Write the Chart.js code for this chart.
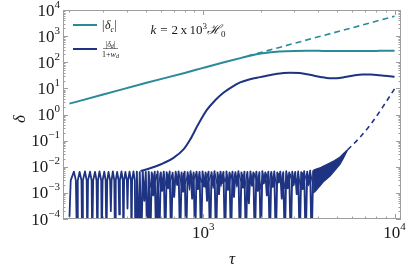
<!DOCTYPE html>
<html lang="en">
<head>
<meta charset="UTF-8">
<title>Density contrast vs conformal time</title>
<script src="https://cdn.jsdelivr.net/npm/chart.js@4.4.1/dist/chart.umd.min.js"></script>
<style>
  body { margin: 0; background: #fff; }
  .chart-container { width: 407px; height: 267px; }
</style>
</head>
<body>
<div class="chart-container"><canvas id="deltaChart"></canvas></div>
<script>
const TEAL = '#2a8a99';
const NAVY = '#1e3382';
const FRAME = '#9e9e9e';
const SERIF = '"Liberation Serif", "DejaVu Serif", serif';

// axis ranges and tick exponents
const xRange = [185, 10810];
const yRange = [1e-4, 1e4];
const xExponents = [3, 4];
const yExponents = [-4, -3, -2, -1, 0, 1, 2, 3, 4];

// |delta_c| (solid) and its dashed continuation
const tealTau = [200, 300, 500, 800, 1000, 1300, 1600, 1800, 2000, 2200, 2500, 3000, 3500, 4000, 5000, 6000, 7000, 8000, 9000, 10000];
const tealVal = [2.6, 5.8, 16, 39, 61, 102, 150, 185, 215, 238, 258, 272, 275, 273, 270, 268, 270, 272, 274, 275];
const tealDashTau = [1700, 2500, 4000, 6000, 10000];
const tealDashVal = [172, 370, 940, 2080, 5800];

// |delta_d|/(1+w_d) growing branch (solid) and dashed branch
const navyTau = [470, 509, 562, 621, 700, 789, 855, 942, 1045, 1155, 1275, 1416, 1560, 1758, 1983, 2371, 2840, 3200, 3605, 4100, 4580, 5000, 5495, 6200, 6810, 7500, 8350, 9200, 10000];
const navyVal = [0.0068, 0.0080, 0.0102, 0.0138, 0.022, 0.046, 0.11, 0.42, 1.5, 3.5, 6.8, 11.5, 17, 22.5, 27, 35, 40, 38.5, 33, 27.5, 24.5, 24.5, 27, 32, 34, 34, 32, 30, 28];
const navyDashTau = [5690, 6574, 7560, 8683, 10000];
const navyDashVal = [0.045, 0.13, 0.45, 1.95, 9.6];

// early oscillations (resolved humps)
const bandLeftTau = [200, 203, 211, 216, 219, 221, 226, 231, 233, 235, 241, 246, 248, 250, 256, 261, 263, 266, 272, 277, 280,
  282, 287, 293, 295, 298, 304, 309, 312, 315, 320, 326, 329, 332, 337, 343, 346, 349, 355, 361, 364,
  367, 374, 380, 383, 386, 392, 399, 402, 405, 412, 419, 422, 425, 432, 439, 442];
const bandLeftVal = [1.2e-4, 3e-3, 6.5e-3, 3e-3, 1e-5, 3e-3, 6.4e-3, 3e-3, 1e-5, 3e-3, 6.6e-3, 3e-3, 1e-5, 3e-3, 6.5e-3, 3e-3, 1e-5, 3e-3, 6.4e-3, 3e-3, 1e-5,
  3e-3, 6.6e-3, 3e-3, 1e-5, 3e-3, 6.5e-3, 3e-3, 1e-5, 3e-3, 6.3e-3, 3e-3, 2e-4, 3e-3, 6.6e-3, 3e-3, 1e-5, 3e-3, 6.4e-3, 3e-3, 1.5e-4,
  3e-3, 6.6e-3, 3e-3, 1e-5, 3e-3, 6.3e-3, 3e-3, 2.5e-4, 3e-3, 6.5e-3, 3e-3, 1e-5, 3e-3, 6.6e-3, 3e-3, 1e-5];

// dense oscillations (peaks and troughs)
const bandMidTau = [442, 450, 458, 466, 475, 483, 492, 501, 510, 519, 529, 538, 548, 558, 568, 578, 589, 600, 610, 622, 633,
  644, 656, 668, 680, 692, 705, 718, 731, 744, 757, 771, 785, 800, 814, 829, 844, 859, 875, 891, 907,
  923, 940, 957, 975, 992, 1010, 1029, 1047, 1066, 1086, 1105, 1125, 1146, 1167, 1188, 1209, 1231, 1254, 1276, 1300,
  1323, 1347, 1372, 1397, 1422, 1448, 1474, 1501, 1528, 1556, 1584, 1613, 1642, 1672, 1702, 1733, 1765, 1797, 1829, 1862,
  1896, 1931, 1966, 2001, 2038, 2075, 2112, 2151, 2190, 2229, 2270, 2311, 2353, 2396, 2439, 2483, 2528, 2574, 2621, 2669,
  2717, 2766, 2816, 2868, 2920, 2973, 3027, 3081, 3137, 3194, 3252, 3311, 3371, 3432, 3495, 3558, 3623, 3688, 3755];
const bandMidVal = [1e-5, 6.5e-3, 1e-5, 6.2e-3, 1e-5, 6.6e-3, 5e-4, 6.3e-3, 1e-5, 6.5e-3, 1e-5,
  6.0e-3, 8e-4, 6.4e-3, 1e-5, 6.6e-3, 1e-5, 6.1e-3, 1.2e-3, 6.5e-3, 1e-5,
  6.2e-3, 1.5e-3, 6.6e-3, 1e-5, 5.9e-3, 7e-4, 6.4e-3, 2e-3, 6.6e-3, 1e-5,
  6.0e-3, 1.1e-3, 6.5e-3, 1e-5, 6.2e-3, 2.2e-3, 6.7e-3, 6e-4, 6.1e-3, 1e-5,
  6.5e-3, 1.4e-3, 6.3e-3, 1e-5, 6.6e-3, 1.8e-3, 6.0e-3, 5e-4, 6.5e-3, 1e-5,
  6.2e-3, 2e-3, 6.7e-3, 1e-5, 6.1e-3, 9e-4, 6.5e-3, 2.4e-3, 6.3e-3, 1e-5,
  6.6e-3, 1.3e-3, 6.0e-3, 1e-5, 6.5e-3, 7e-4, 6.2e-3, 2.1e-3, 6.7e-3, 1e-5,
  6.1e-3, 1.6e-3, 6.5e-3, 1e-5, 6.3e-3, 4e-4, 6.6e-3, 1.9e-3, 6.0e-3, 1e-5,
  6.5e-3, 1.2e-3, 6.2e-3, 1e-5, 6.7e-3, 2.3e-3, 6.1e-3, 8e-4, 6.5e-3, 1e-5,
  6.3e-3, 1.7e-3, 6.6e-3, 1e-5, 6.0e-3, 2.5e-3, 6.5e-3, 6e-4, 6.2e-3, 1e-5,
  6.7e-3, 1.5e-3, 6.1e-3, 1e-5, 6.5e-3, 2e-3, 6.3e-3, 9e-4, 6.6e-3, 1e-5,
  6.2e-3, 1.4e-3, 6.8e-3, 1e-5, 6.5e-3, 2.2e-3, 7.0e-3, 1e-5, 7.2e-3];

// second, out-of-phase oscillation riding in the same band
const bandMid2Tau = [520, 533, 545, 557, 570, 583, 596, 611, 625, 639, 654, 670, 686, 702, 719, 736, 753, 771, 790, 808,
  828, 848, 868, 889, 910, 932, 954, 977, 1000, 1024, 1049, 1074, 1100, 1127, 1154, 1181, 1210, 1239, 1269, 1300,
  1331, 1363, 1396, 1430, 1464, 1500, 1536, 1573, 1611, 1650, 1690, 1731, 1773, 1816, 1860, 1905, 1951, 1998, 2047, 2096,
  2147, 2199, 2252, 2306, 2362, 2419, 2478, 2538, 2599, 2662, 2727, 2793, 2860, 2930, 3000, 3073, 3147, 3224, 3302, 3382,
  3464, 3548, 3634, 3722];
const bandMid2Val = [5.2e-3, 1.6e-3, 5.5e-3, 2.2e-3, 5.0e-3, 1.4e-3, 5.6e-3, 2.6e-3, 5.1e-3, 1.8e-3,
  5.4e-3, 2.4e-3, 4.9e-3, 1.5e-3, 5.5e-3, 2.8e-3, 5.2e-3, 1.7e-3, 5.6e-3, 2.3e-3,
  5.0e-3, 1.3e-3, 5.4e-3, 2.7e-3, 5.3e-3, 1.9e-3, 5.6e-3, 2.5e-3, 4.9e-3, 1.6e-3,
  5.5e-3, 2.9e-3, 5.2e-3, 1.5e-3, 5.4e-3, 2.2e-3, 5.1e-3, 1.8e-3, 5.6e-3, 2.6e-3,
  5.0e-3, 1.4e-3, 5.5e-3, 2.4e-3, 5.3e-3, 1.7e-3, 5.6e-3, 2.8e-3, 5.1e-3, 1.5e-3,
  5.4e-3, 2.3e-3, 5.2e-3, 1.9e-3, 5.6e-3, 2.6e-3, 5.0e-3, 1.4e-3, 5.5e-3, 2.5e-3,
  5.3e-3, 1.6e-3, 5.6e-3, 2.9e-3, 5.1e-3, 1.8e-3, 5.5e-3, 2.2e-3, 5.3e-3, 1.5e-3,
  5.7e-3, 2.7e-3, 5.2e-3, 1.7e-3, 5.6e-3, 2.4e-3, 5.4e-3, 1.6e-3, 5.8e-3, 2.8e-3,
  5.5e-3, 1.9e-3, 6.0e-3, 2.5e-3];

// unresolved oscillation envelope before the dashed branch emerges
const envTau = [3755, 3831, 4068, 4233, 4586, 4770, 5170, 5379, 5690];
const envLow = [1.0e-3, 1.1e-3, 1.8e-3, 2.6e-3, 4.3e-3, 6e-3, 1.2e-2, 2.0e-2, 4.5e-2];
const envHigh = [7.2e-3, 7.8e-3, 9e-3, 1.05e-2, 1.4e-2, 1.6e-2, 2.3e-2, 3.1e-2, 4.5e-2];

const pts = (xs, ys) => xs.map((x, i) => ({x: x, y: ys[i]}));

function drawRuns(ctx, runs, x, y) {
  runs.forEach(r => {
    ctx.font = r.font;
    ctx.fillText(r.t, x, y + (r.dy || 0));
    x += ctx.measureText(r.t).width + (r.gap || 0);
  });
}
function runsWidth(ctx, runs) {
  let w = 0;
  runs.forEach(r => { ctx.font = r.font; w += ctx.measureText(r.t).width + (r.gap || 0); });
  return w;
}
function powRuns(e) {
  const txt = e < 0 ? '\u2212' + (-e) : String(e);
  return [{t: '10', font: '17px ' + SERIF}, {t: txt, font: '11px ' + SERIF, dy: -8}];
}

const framePlugin = {
  id: 'frame',
  afterDatasetsDraw(chart) {
    const ctx = chart.ctx, a = chart.chartArea, xs = chart.scales.x, ys = chart.scales.y;
    ctx.save();
    ctx.strokeStyle = FRAME;
    ctx.lineWidth = 1;
    ctx.strokeRect(a.left + 0.5, a.top + 0.5, a.right - a.left - 1, a.bottom - a.top - 1);

    ctx.beginPath();
    for (let d = 2; d <= 4; d++) {
      for (let m = 1; m <= 9; m++) {
        const v = m * Math.pow(10, d);
        if (v < xRange[0] || v > xRange[1]) continue;
        const px = Math.round(xs.getPixelForValue(v)) + 0.5;
        const len = m === 1 ? 5 : 2.5;
        ctx.moveTo(px, a.bottom); ctx.lineTo(px, a.bottom - len);
        ctx.moveTo(px, a.top); ctx.lineTo(px, a.top + len);
      }
    }
    for (let d = -4; d <= 4; d++) {
      for (let m = 1; m <= 9; m++) {
        const v = m * Math.pow(10, d);
        if (v < yRange[0] * 0.999 || v > yRange[1] * 1.001) continue;
        const py = Math.round(ys.getPixelForValue(v)) + 0.5;
        const len = m === 1 ? 5 : 2.5;
        ctx.moveTo(a.left, py); ctx.lineTo(a.left + len, py);
        ctx.moveTo(a.right, py); ctx.lineTo(a.right - len, py);
      }
    }
    ctx.stroke();

    // tick labels
    ctx.fillStyle = '#1a1a1a';
    ctx.textBaseline = 'alphabetic';
    ctx.textAlign = 'left';
    yExponents.forEach(e => {
      const runs = powRuns(e);
      const py = ys.getPixelForValue(Math.pow(10, e));
      drawRuns(ctx, runs, 60 - runsWidth(ctx, runs), py + 5.5);
    });
    xExponents.forEach(e => {
      const runs = powRuns(e);
      const px = xs.getPixelForValue(Math.pow(10, e));
      drawRuns(ctx, runs, px - runsWidth(ctx, runs) / 2, 237.5);
    });

    // axis titles
    ctx.font = 'italic 17px ' + SERIF;
    ctx.textAlign = 'center';
    ctx.fillText('\u03c4', 232, 264);
    ctx.save();
    ctx.translate(20, 119);
    ctx.rotate(-Math.PI / 2);
    ctx.fillText('\u03b4', 0, 5);
    ctx.restore();
    ctx.textAlign = 'left';

    // annotation
    drawRuns(ctx, [
      {t: 'k', font: 'italic 13px ' + SERIF, gap: 4},
      {t: '=', font: '13px ' + SERIF, gap: 4},
      {t: '2', font: '13px ' + SERIF, gap: 2.5},
      {t: 'x', font: '13px ' + SERIF, gap: 2.5},
      {t: '10', font: '13px ' + SERIF},
      {t: '3', font: '9px ' + SERIF, dy: -5},
      {t: '\u210b', font: 'italic 13px ' + SERIF},
      {t: '0', font: '9px ' + SERIF, dy: 2.5}
    ], 150.5, 34);

    // legend
    ctx.lineWidth = 2;
    ctx.strokeStyle = TEAL;
    ctx.beginPath(); ctx.moveTo(73, 25); ctx.lineTo(97, 25); ctx.stroke();
    ctx.strokeStyle = NAVY;
    ctx.beginPath(); ctx.moveTo(73, 49); ctx.lineTo(97, 49); ctx.stroke();
    drawRuns(ctx, [
      {t: '|', font: '12px ' + SERIF, gap: 0.5},
      {t: '\u03b4', font: 'italic 12px ' + SERIF},
      {t: 'c', font: 'italic 8px ' + SERIF, dy: 2.5, gap: 0.5},
      {t: '|', font: '12px ' + SERIF}
    ], 102, 29);
    const num = [
      {t: '|', font: '8px ' + SERIF},
      {t: '\u03b4', font: 'italic 8px ' + SERIF},
      {t: 'd', font: 'italic 6px ' + SERIF, dy: 1.5},
      {t: '|', font: '8px ' + SERIF}
    ];
    const den = [
      {t: '1+', font: '8px ' + SERIF},
      {t: 'w', font: 'italic 8px ' + SERIF},
      {t: 'd', font: 'italic 6px ' + SERIF, dy: 1.5}
    ];
    drawRuns(ctx, num, 110.5 - runsWidth(ctx, num) / 2, 46.5);
    drawRuns(ctx, den, 110.5 - runsWidth(ctx, den) / 2, 56.5);
    ctx.strokeStyle = '#333';
    ctx.lineWidth = 0.6;
    ctx.beginPath(); ctx.moveTo(103, 48.5); ctx.lineTo(118, 48.5); ctx.stroke();
    ctx.restore();
  }
};

new Chart(document.getElementById('deltaChart'), {
  type: 'line',
  data: {
    datasets: [
      {data: pts(tealTau, tealVal), borderColor: TEAL, borderWidth: 2, cubicInterpolationMode: 'monotone', order: 0},
      {data: pts(tealDashTau, tealDashVal), borderColor: TEAL, borderWidth: 1.6, borderDash: [6, 4], cubicInterpolationMode: 'monotone', order: 1},
      {data: pts(navyTau, navyVal), borderColor: NAVY, borderWidth: 2, cubicInterpolationMode: 'monotone', order: 2},
      {data: pts(navyDashTau, navyDashVal), borderColor: NAVY, borderWidth: 1.6, borderDash: [5, 4], cubicInterpolationMode: 'monotone', order: 3},
      {data: pts(bandLeftTau, bandLeftVal), borderColor: NAVY, borderWidth: 1.8, order: 4},
      {data: pts(bandMidTau, bandMidVal), borderColor: NAVY, borderWidth: 1.9, order: 4},
      {data: pts(bandMid2Tau, bandMid2Val), borderColor: NAVY, borderWidth: 1.2, order: 4},
      {data: pts(envTau, envLow), borderColor: NAVY, borderWidth: 1.2, order: 5},
      {data: pts(envTau, envHigh), borderColor: NAVY, borderWidth: 1.2, fill: '-1', backgroundColor: NAVY, order: 5}
    ]
  },
  options: {
    responsive: true,
    maintainAspectRatio: false,
    animation: false,
    events: [],
    layout: {padding: {top: 10, right: 6, left: 0, bottom: 0}},
    elements: {point: {radius: 0}, line: {borderJoinStyle: 'round', tension: 0}},
    plugins: {legend: {display: false}, tooltip: {enabled: false}},
    scales: {
      x: {
        type: 'logarithmic', min: xRange[0], max: xRange[1],
        grid: {display: false}, border: {display: false}, ticks: {display: false},
        afterFit: s => { s.height = 48; }
      },
      y: {
        type: 'logarithmic', min: yRange[0], max: yRange[1],
        grid: {display: false}, border: {display: false}, ticks: {display: false},
        afterFit: s => { s.width = 63; }
      }
    }
  },
  plugins: [framePlugin]
});
</script>
</body>
</html>
